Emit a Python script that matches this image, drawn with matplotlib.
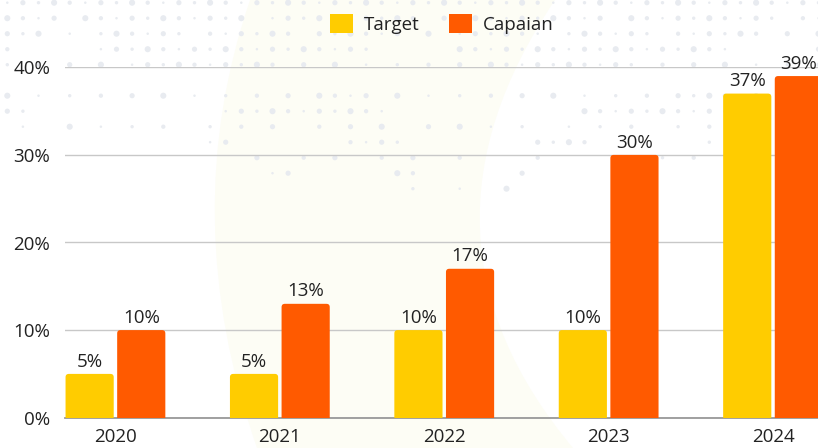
import matplotlib
matplotlib.use("Agg")
import matplotlib.pyplot as plt
from matplotlib.patches import FancyBboxPatch, PathPatch, Patch
from matplotlib.path import Path
import numpy as np

# ---------------------------------------------------------
# DATA
# ---------------------------------------------------------
years = ["2020", "2021", "2022", "2023", "2024"]
target = [5, 5, 10, 10, 37]
capaian = [10, 13, 17, 30, 39]
y_ticks = [0, 10, 20, 30, 40]

series_names = ["Target", "Capaian"]
colors = ["#FFCC00", "#FF5A00"]

# ---------------------------------------------------------
# FIGURE
# ---------------------------------------------------------
plt.rcParams["font.family"] = ["Open Sans", "DejaVu Sans"]
W, H = 818, 448
fig = plt.figure(figsize=(W / 100, H / 100), dpi=100)
fig.patch.set_facecolor("white")

# background decoration (pixel coordinates)
bg = fig.add_axes([0, 0, 1, 1], zorder=0)
bg.set_xlim(0, W)
bg.set_ylim(H, 0)
bg.axis("off")

verts = [(250, 0), (176, 216), (257, 448), (573, 448), (396, 236), (555, 0), (250, 0)]
codes = [Path.MOVETO, Path.CURVE3, Path.CURVE3, Path.LINETO,
         Path.CURVE3, Path.CURVE3, Path.CLOSEPOLY]
bg.add_patch(PathPatch(Path(verts, codes), facecolor="#FDFDF5", edgecolor="none"))

dx, dy = [], []
ds = []
for r in range(13):
    for c in range(53):
        x = 7.3 + 15.6 * c
        y = 2.7 + 15.5 * r
        h = ((c * 37 + r * 61 + c * r * 11) % 23) / 23.0
        fade = r / 13.0
        if r > 8 and not (200 < x < 720):
            continue
        if h < fade * 0.9:
            continue
        d = 2.5 + ((c * 13 + r * 29) % 5) * 0.9
        dx.append(x)
        dy.append(y)
        ds.append((d * 0.72) ** 2)
bg.scatter(dx, dy, s=ds, color="#E8EBF0", linewidths=0)

# ---------------------------------------------------------
# MAIN AXES
# ---------------------------------------------------------
left_px, right_px = 65.3, 818
top_px, bottom_px = 67.3, 417.7
ax = fig.add_axes([left_px / W, (H - bottom_px) / H,
                   (right_px - left_px) / W, (bottom_px - top_px) / H], zorder=1)
ax.patch.set_alpha(0)

x = np.arange(len(years))
bw = 0.293
off = 0.157
ax.set_xlim(-0.305, -0.305 + (right_px - left_px) / 164.4)
ax.set_ylim(0, 40)

fs = 13.5
aspect = (40 / (bottom_px - top_px)) / (1 / 164.4)
for vals, col, sgn in [(target, colors[0], -1), (capaian, colors[1], 1)]:
    for xi, v in zip(x, vals):
        left = xi + sgn * off - bw / 2
        p = FancyBboxPatch((left, -1), bw, v + 1,
                           boxstyle="round,pad=0,rounding_size=0.02",
                           mutation_aspect=aspect,
                           facecolor=col, edgecolor="none", zorder=3)
        ax.add_patch(p)
        ax.annotate(f"{v}%", (xi + sgn * off, v), xytext=(0, 5.3),
                    textcoords="offset points", ha="center", va="baseline",
                    fontsize=fs, color="#222222", zorder=4,
                    annotation_clip=False)

ax.set_yticks(y_ticks)
ax.set_yticklabels([f"{t}%" for t in y_ticks])
ax.set_xticks(x)
ax.set_xticklabels(years)
ax.tick_params(axis="y", length=0, pad=11, labelsize=fs, labelcolor="#222222")
ax.tick_params(axis="x", length=0, pad=7.5, labelsize=fs, labelcolor="#222222")
ax.grid(axis="y", color="#C8C8C8", linewidth=1)
ax.set_axisbelow(True)
for s in ["top", "right", "left"]:
    ax.spines[s].set_visible(False)
ax.spines["bottom"].set_color("#999999")
ax.spines["bottom"].set_linewidth(1.3)
ax.spines["bottom"].set_zorder(2)

handles = [Patch(facecolor=c, edgecolor="none") for c in colors]
leg = ax.legend(handles, series_names, loc="center", ncol=2,
                bbox_to_anchor=(0.5, 1 + (67.3 - 23.7) / (bottom_px - top_px)),
                frameon=False, fontsize=fs, handlelength=1.22, handleheight=1.22,
                handletextpad=0.6, columnspacing=1.55, labelcolor="#222222")

fig.savefig("out.png", dpi=100)
